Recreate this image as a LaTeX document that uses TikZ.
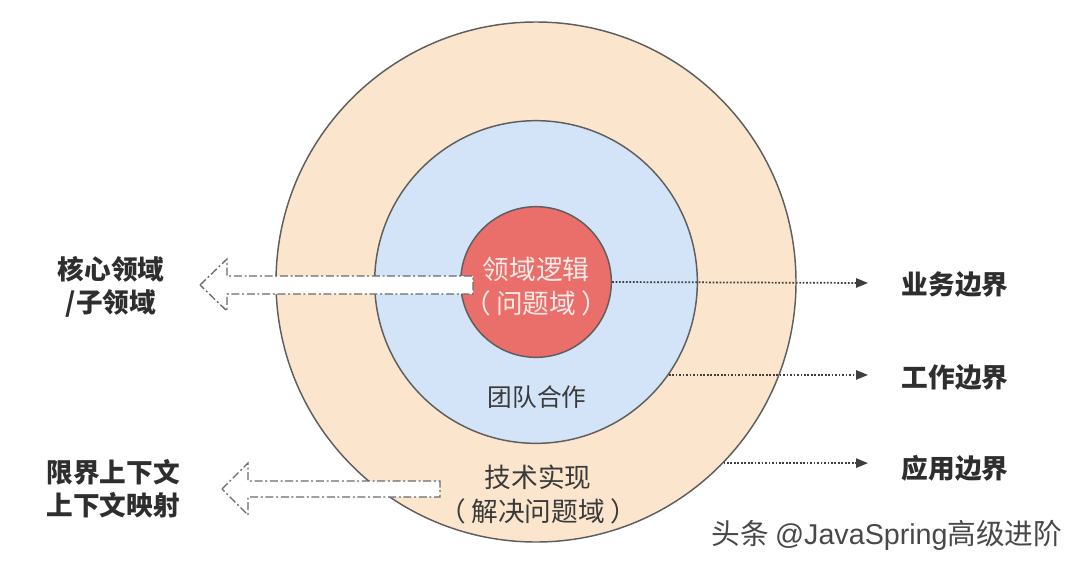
\documentclass[tikz,border=0pt]{standalone}
\usepackage{fontspec}
\setmainfont{Noto Sans CJK SC}
\newfontfamily\latinsans{Liberation Sans}
\usetikzlibrary{positioning,arrows.meta}

\definecolor{ringline}{HTML}{5E5E5E}
\definecolor{outerfill}{HTML}{FBE5CD}
\definecolor{midfill}{HTML}{D3E3F8}
\definecolor{corefill}{HTML}{EA6E69}
\definecolor{coretext}{HTML}{FDECEA}
\definecolor{arrowgray}{HTML}{3F3F3F}
\definecolor{hollowgray}{HTML}{6A6A6A}
\definecolor{labeltext}{HTML}{2E2E2E}
\definecolor{ringtext}{HTML}{3A3A3A}
\definecolor{marktext}{HTML}{484848}

\begin{document}
\begin{tikzpicture}[x=0.75pt,y=-0.75pt,
  ring/.style={circle,draw=ringline,line width=1.1pt,inner sep=0pt},
  flow/.style={draw=arrowgray,line width=1.3pt,dash pattern=on 1.3pt off 1.3pt,
    -{Triangle[length=9pt,width=7pt]}},
  hollow/.style={draw=hollowgray,fill=white,line width=1pt,
    dash pattern=on 6pt off 2pt on 1.5pt off 2pt},
  side/.style={font=\bfseries\fontsize{20}{24.5}\selectfont,text=labeltext,align=center},
  inring/.style={font=\fontsize{20}{25.5}\selectfont,text=ringtext,align=center}]
\useasboundingbox (0,0) rectangle (1080,564);

% the three rings
\node[ring,fill=outerfill,minimum size=390pt] (outer) at (536,282) {};
\node[ring,fill=midfill,minimum size=242pt] (team) at (536,282) {};
\node[ring,fill=corefill,minimum size=113pt] (core) at (536,282) {};

% labels left and right
\node[side] (subdom) at (111,287) {核心领域\\/子领域};
\node[side] (ctxmap) at (113,489) {限界上下文\\上下文映射};
\node[side] (bizb) at (955,284) {业务边界};
\node[side] (workb) at (955,377) {工作边界};
\node[side] (appb) at (955,468) {应用边界};

\coordinate (tipA) at (200,285);
\coordinate (tipB) at (222,489);
\coordinate (endR) at (868,283);

% hollow arrows to the left
\draw[hollow] (tipA) -- ++(27,-26) -- ++(0,17) -- ++(246,0) -- ++(0,18)
  -- ++(-246,0) -- ++(0,17) -- cycle;
\draw[hollow] (tipB) -- ++(26,-26) -- ++(0,18) -- ++(192,0) -- ++(0,16)
  -- ++(-192,0) -- ++(0,18) -- cycle;

% dotted arrows to the right
\draw[flow] (core.east) -- (endR);
\draw[flow] (team.-35) -- (team.-35 -| endR);
\draw[flow] (outer.-44) -- (outer.-44 -| endR);

% texts in the rings
\node[inring,text=coretext] (coretxt) at (536,287)
  {领域逻辑\\（\hspace{4pt}问题域\hspace{4pt}）};
\node[inring,font=\fontsize{18.5}{24}\selectfont] (teamtxt) at (537,397) {团队合作};
\node[inring] (techtxt) at (538,494)
  {技术实现\\（\hspace{4pt}解决问题域\hspace{4pt}）};

\node[font=\fontsize{21.5}{24}\selectfont,text=marktext,anchor=east] (mark) at (1067,535)
  {头条 {\latinsans @JavaSpring}高级进阶};
\end{tikzpicture}
\end{document}
